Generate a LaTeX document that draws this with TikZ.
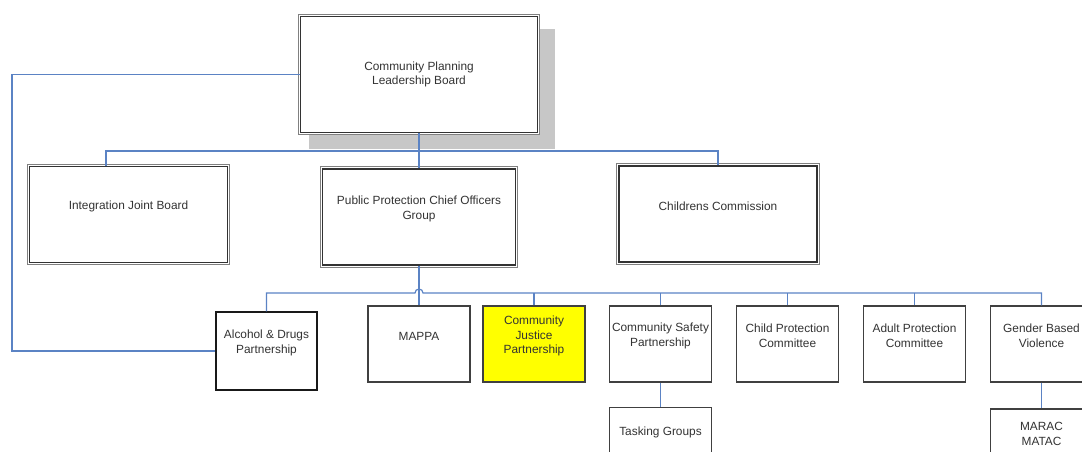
\documentclass[tikz,border=0pt]{standalone}
\usepackage{fontspec}
\setmainfont{Liberation Sans}
\usetikzlibrary{shadows,calc}
\definecolor{linkblue}{RGB}{91,131,196}
\definecolor{cjpyellow}{RGB}{255,255,0}
\tikzset{
    txt/.style = {align=center, text=black!80, inner sep=0pt,
        font=\fontsize{8.9}{10.9}\selectfont},
    frame/.style = {draw=black!80, line width=1pt, fill=white, inner sep=0pt,
        preaction={draw=black!50, line width=4pt},
        preaction={draw=white, line width=2.4pt}},
    board/.style = {frame, minimum width=148.5pt, minimum height=72pt,
        label={[txt, anchor=center, yshift=6pt]center:#1}},
    unit/.style = {draw=black!75, line width=0.8pt, fill=white, inner sep=0pt,
        minimum width=76.5pt, minimum height=57pt,
        label={[txt, anchor=center, yshift=6pt]center:#1}},
    link/.style = {draw=linkblue, line width=0.9pt}
}

\begin{document}
\begin{tikzpicture}[x=0.75pt, y=-0.75pt]
    \useasboundingbox (0,0) rectangle (1082,452);
    \clip (0,0) rectangle (1082,452);
    \node [drop shadow={shadow xshift=9.4pt, shadow yshift=-10.5pt, shadow scale=1.035,
        fill=black!22, opacity=1},
        frame, txt, minimum width=177.75pt, minimum height=87pt] (cplb) at (419,74.5)
        {Community Planning\\Leadership Board};
    \node [board={Integration Joint Board}] (ijb) at (128.5,214.5) {};
    \node [board={Public Protection Chief Officers\\Group}, minimum width=144.75pt] (ppcog) at (419,217) {};
    \node [board={Childrens Commission}] (cc) at (718,214) {};
    \coordinate (bus) at (106,151);
    \draw [link] (cplb.south) -- (ppcog.north);
    \draw [link] (bus |- ijb.north) -- (bus) -| (cc.north);
    \node [unit={Alcohol \& Drugs\\Partnership}, draw=black!90, minimum width=75.75pt, minimum height=58.5pt] (adp) at (266.5,351) {};
    \node [unit={MAPPA}] (mappa) at (419,344) {};
    \node [unit={Community\\Justice\\Partnership}, fill=cjpyellow] (cjp) at (534,344) {};
    \node [unit={Community Safety\\Partnership}] (csp) at (660.5,344) {};
    \node [unit={Child Protection\\Committee}] (cpc) at (787.5,344) {};
    \node [unit={Adult Protection\\Committee}] (apc) at (914.5,344) {};
    \node [unit={Gender Based\\Violence}] (gbv) at (1041.5,344) {};
    \node [unit={Tasking Groups}, minimum height=49.5pt] (tg) at (660.5,440.5) {};
    \node [unit={MARAC\\MATAC}, minimum height=49.5pt] (marac) at (1041.5,442) {};
    \coordinate (hop) at (415,293);
    \coordinate (loop) at (12,351);
    \draw [link] (cplb.west) -| (loop) -- (adp.west);
    \draw [link] (ppcog.south) -- (mappa.north);
    \draw [link] (adp.north) |- (hop) arc [start angle=180, end angle=0, radius=3pt] -| (gbv.north);
    \draw [link] (cjp.north) -- (cjp.north |- hop);
    \draw [link] (csp.north) -- (csp.north |- hop);
    \draw [link] (cpc.north) -- (cpc.north |- hop);
    \draw [link] (apc.north) -- (apc.north |- hop);
    \draw [link] (csp.south) -- (tg.north);
    \draw [link] (gbv.south) -- (marac.north);
\end{tikzpicture}
\end{document}
